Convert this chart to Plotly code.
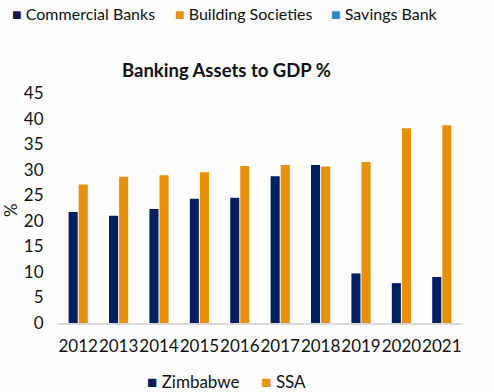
import plotly.graph_objects as go

years = ["2012", "2013", "2014", "2015", "2016", "2017", "2018", "2019", "2020", "2021"]
zimbabwe = [21.7, 21.0, 22.3, 24.3, 24.5, 28.7, 30.9, 9.7, 7.8, 9.0]
ssa = [27.1, 28.6, 28.9, 29.5, 30.7, 30.9, 30.6, 31.5, 38.1, 38.7]
y_ticks = [0, 5, 10, 15, 20, 25, 30, 35, 40, 45]
top_legend = [("Commercial Banks", "#1b1442", 11), ("Building Societies", "#e8900a", 174),
              ("Savings Bank", "#2a86c9", 330)]
series_names = ["Zimbabwe", "SSA"]
series_colors = ["#002060", "#e8900a"]

FONT = "Lato"
W, H = 494, 392

fig = go.Figure()
for name, vals, col in zip(series_names, [zimbabwe, ssa], series_colors):
    fig.add_trace(go.Bar(name=name, x=years, y=vals, marker_color=col, marker_line_width=0))

fig.update_layout(
    width=W, height=H,
    margin=dict(l=58, r=32, t=93, b=69, autoexpand=False),
    paper_bgcolor="#fdfdfd", plot_bgcolor="#fdfdfd",
    barmode="group", bargap=0.5, bargroupgap=0.1,
    font=dict(family=FONT, size=17, color="#111111"),
    showlegend=False,
    xaxis=dict(showgrid=False, showline=True, linecolor="#d9d9d9", linewidth=1.5,
               tickangle=0, ticks="outside", ticklen=7, tickcolor="rgba(0,0,0,0)",
               tickfont=dict(size=17)),
    yaxis=dict(range=[0, 45], tickvals=y_ticks, showgrid=False, zeroline=False,
               showline=False, ticks="outside", ticklen=10, tickcolor="rgba(0,0,0,0)",
               tickfont=dict(size=17)),
)

fig.add_annotation(text="%", xref="paper", yref="paper", textangle=-90,
                   x=(10 - 58) / 404, y=(323 - 210) / 230, xanchor="center", yanchor="middle",
                   showarrow=False, font=dict(size=17, family=FONT, color="#111111"))

fig.add_annotation(text="<b>Banking Assets to GDP %</b>", xref="paper", yref="paper",
                   x=(226 - 58) / 404, y=(323 - 70) / 230, xanchor="center", yanchor="middle",
                   showarrow=False, font=dict(size=18.5, family=FONT, color="#111111"))

# top legend fragment
for label, color, x0 in top_legend:
    fig.add_annotation(text=f'<span style="color:{color}">■</span> {label}',
                       xref="paper", yref="paper", borderpad=0,
                       x=(x0 - 58) / 404, y=(323 - 13) / 230, xanchor="left", yanchor="middle",
                       showarrow=False, font=dict(size=16, family=FONT, color="#111111"))

# bottom legend
fig.add_annotation(text=f'<span style="color:{series_colors[0]}">■</span> {series_names[0]}'
                        f'     <span style="color:{series_colors[1]}">■</span> {series_names[1]}',
                   xref="paper", yref="paper",
                   x=(226 - 58) / 404, y=(323 - 381) / 230, xanchor="center", yanchor="middle",
                   showarrow=False, font=dict(size=17, family=FONT, color="#111111"))

fig.write_html("out.html", config={"displayModeBar": False},
               post_script="document.body.style.margin='0';document.body.style.background='#fdfdfd';")
